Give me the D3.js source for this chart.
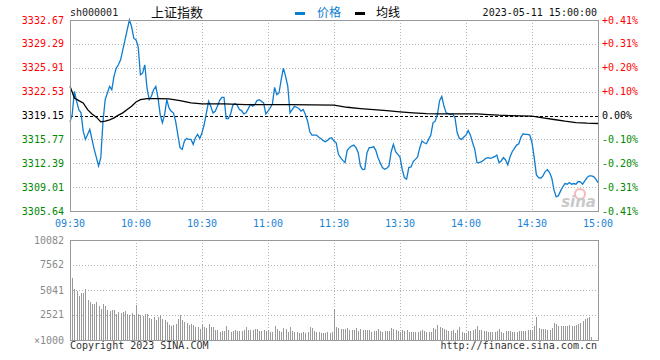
<!DOCTYPE html>
<html>
<head>
<meta charset="utf-8">
<script src="https://cdnjs.cloudflare.com/ajax/libs/d3/7.8.5/d3.min.js"></script>
<style>
  body { margin: 0; background: #fff; }
  text { font-family: "DejaVu Sans Mono", monospace; font-size: 10px; }
  .cn { font-family: "Noto Sans CJK SC", sans-serif; }
</style>
</head>
<body>
<div id="chart"></div>
<script>
// minute data, 09:30 -> 15:00 (241 points, lunch break removed)
var price = [
  3318.26, 3319.29, 3322.58, 3321.17, 3319.99, 3319.53, 3316.94, 3315.77, 3316.47, 3317.18,
  3315.77, 3314.36, 3313.19, 3312.02, 3313.19, 3318.35, 3321.40, 3322.34, 3323.28, 3322.81,
  3324.69, 3325.86, 3326.33, 3327.04, 3328.44, 3329.85, 3331.26, 3332.67, 3331.73, 3330.09,
  3329.85, 3328.91, 3324.92, 3325.16, 3326.33, 3323.05, 3321.40, 3321.87, 3322.81, 3323.28,
  3321.64, 3319.29, 3318.12, 3319.29, 3321.40, 3320.23, 3319.76, 3319.53, 3318.35, 3316.47,
  3314.60, 3314.36, 3315.54, 3315.91, 3315.77, 3315.77, 3315.07, 3316.01, 3316.47, 3315.91,
  3316.71, 3317.88, 3319.53, 3321.17, 3320.46, 3319.53, 3319.76, 3320.46, 3321.26, 3321.73,
  3321.73, 3318.73, 3318.73, 3319.38, 3320.61, 3320.84, 3320.61, 3319.99, 3319.85, 3319.38,
  3319.53, 3320.09, 3320.70, 3320.46, 3320.70, 3321.26, 3321.40, 3321.17, 3320.93, 3319.38,
  3319.76, 3320.23, 3320.79, 3323.14, 3322.11, 3322.34, 3324.22, 3325.86, 3324.69, 3323.28,
  3319.53, 3319.99, 3320.46, 3320.32, 3320.14, 3319.76, 3319.99, 3319.29, 3318.35, 3316.85,
  3316.38, 3316.38, 3316.38, 3316.10, 3315.91, 3315.63, 3315.44, 3315.63, 3315.91, 3316.01,
  3315.54, 3315.30, 3313.66, 3313.19, 3312.81, 3312.48, 3314.22, 3314.60, 3314.83, 3314.97,
  3314.60, 3313.89, 3312.02, 3311.50, 3311.55, 3313.89, 3314.60, 3314.60, 3314.74, 3314.22,
  3313.19, 3312.48, 3311.78, 3311.55, 3311.69, 3312.02, 3314.03, 3315.07, 3314.03, 3313.66,
  3313.28, 3311.55, 3310.37, 3310.14, 3311.78, 3311.87, 3312.63, 3312.95, 3313.28, 3314.60,
  3315.54, 3315.30, 3315.16, 3315.77, 3316.38, 3318.12, 3318.35, 3319.29, 3321.26, 3321.87,
  3320.46, 3319.53, 3319.43, 3319.29, 3319.38, 3318.82, 3316.71, 3315.91, 3315.77, 3316.10,
  3316.38, 3317.04, 3316.38, 3315.30, 3314.36, 3312.48, 3312.48, 3312.63, 3312.81, 3313.09,
  3313.19, 3313.09, 3313.19, 3313.33, 3313.56, 3312.48, 3312.72, 3313.19, 3312.86, 3312.16,
  3313.28, 3314.03, 3314.50, 3314.97, 3315.16, 3316.10, 3316.57, 3316.47, 3316.47, 3316.38,
  3315.30, 3313.19, 3310.75, 3310.37, 3310.28, 3310.61, 3311.22, 3311.50, 3311.08, 3310.28,
  3308.59, 3307.65, 3307.79, 3308.49, 3309.06, 3309.53, 3309.43, 3309.67, 3309.43, 3309.53,
  3309.43, 3309.81, 3309.76, 3309.43, 3309.90, 3310.37, 3310.61, 3310.61, 3310.51, 3310.14,
  3309.67
];

// average line, read at these minute indexes
var avgIdx = [0, 2, 4, 6, 8, 10, 12, 14, 16, 18, 20, 22, 24, 26, 28, 30, 32, 35, 40, 45, 50, 55, 60,
  70, 80, 90, 100, 110, 120, 126, 132, 138, 144, 150, 156, 162, 168, 174, 180, 185, 190, 195,
  200, 205, 210, 215, 220, 225, 230, 235, 240];
var avgVal = [3323.28, 3321.64, 3321.26, 3320.93, 3319.99, 3319.38, 3318.92, 3318.26, 3318.35, 3318.54,
  3318.82, 3319.20, 3319.53, 3319.99, 3320.46, 3321.07, 3321.40, 3321.54, 3321.54, 3321.50, 3321.26,
  3320.93, 3320.79, 3320.79, 3320.70, 3320.70, 3320.70, 3320.65, 3320.61, 3320.32, 3320.14, 3319.99,
  3319.85, 3319.67, 3319.53, 3319.43, 3319.38, 3319.38, 3319.38, 3319.38, 3319.29, 3319.20, 3319.15,
  3319.10, 3319.06, 3318.82, 3318.59, 3318.35, 3318.16, 3318.07, 3318.02];

// volume per minute (shares / 1000)
var volume = [
  10082, 6280, 5100, 4900, 4400, 4700, 4750, 5100, 4000, 3850,
  3600, 3600, 3800, 3400, 3100, 3650, 3400, 3050, 2950, 3050,
  3050, 2650, 2800, 2750, 2800, 2900, 2600, 2550, 2700, 2500,
  3500, 2600, 2550, 2400, 2600, 2650, 2200, 2100, 2300, 2000,
  2300, 2550, 2100, 2000, 1800, 1500, 1450, 1500, 1600, 2100,
  2550, 2000, 1850, 1700, 1550, 1650, 1550, 1350, 1300, 1100,
  1500, 1350, 1200, 1650, 1350, 1350, 1000, 1000, 850,
  900, 900, 1400, 1000, 800, 900, 1000, 950, 900, 950, 1000,
  1280, 1000, 1000, 1050, 1100, 1100, 900, 900, 1000, 950,
  1000, 780, 800, 1380, 1100, 900, 800, 1200, 1100, 800,
  1300, 900, 800, 800, 700, 700, 800, 700, 800, 1300,
  1200, 900, 800, 800, 700, 700, 700, 800, 700, 800,
  3100, 1300, 1200, 1150, 1100, 1100, 1200, 1000, 1000, 1000,
  1200, 900, 1100, 1000, 1000, 1000, 1000, 800, 900, 900,
  1100, 900, 800, 900, 900, 900, 1200, 1100, 1000, 900,
  800, 1000, 900, 1000, 800, 800, 800, 800, 800, 900,
  1000, 900, 800, 800, 800, 1200, 1100, 1500, 1300, 1180,
  1100, 1000, 950, 950, 1000, 700, 1000, 1350, 850, 750,
  750, 950, 900, 1000, 1100, 1400, 1000, 1000, 950, 900,
  800, 800, 800, 800, 900, 1150, 800, 750, 900, 900,
  900, 800, 850, 850, 900, 950, 950, 900, 1000, 1000,
  1050, 1400, 2280, 1200, 1100, 1100, 1100, 1000, 1000, 1200,
  1680, 1600, 1450, 1400, 1400, 1400, 1400, 1500, 1400, 1450,
  1500, 1600, 1750, 1950, 2080, 2200, 2350, 270, 0, 0, 0
];

// axis labels
var priceTicks = [3305.64, 3309.01, 3312.39, 3315.77, 3319.15, 3322.53, 3325.91, 3329.29, 3332.67];
var pctTicks = ["-0.41%", "-0.31%", "-0.20%", "-0.10%", "0.00%", "+0.10%", "+0.20%", "+0.31%", "+0.41%"];
var timeIdx = [0, 30, 60, 90, 120, 150, 180, 210, 240];
var timeLabels = ["09:30", "10:00", "10:30", "11:00", "11:30", "13:30", "14:00", "14:30", "15:00"];
var volTicks = [0, 2521, 5041, 7562, 10082];
var volLabels = ["\u00d71000", "2521", "5041", "7562", "10082"];
var preClose = 3319.15;

var svgWidth = 660;
var svgHeight = 360;

var left = 70, right = 598;
var pTop = 20, pBottom = 211;
var vTop = 240, vBottom = 340;

var blue = "#0f7dcf";
var grid = "#b4b4b4";
var frame = "#999";

var svg = d3.select("#chart")
    .append("svg")
    .attr("width", svgWidth)
    .attr("height", svgHeight);

// scales
var xScale = d3.scaleLinear().domain([0, 240]).range([left, right]);
var yScale = d3.scaleLinear().domain([priceTicks[0], priceTicks[8]]).range([pBottom, pTop]);
var vScale = d3.scaleLinear().domain([0, 10082]).range([vBottom, vTop]);

function colorFor(i) {
    if (i > 4) return "#f00";
    if (i < 4) return "#080";
    return "#000";
}

// ---- price panel gridlines ----
var pGrid = svg.append("g").attr("shape-rendering", "crispEdges");

pGrid.selectAll(".hg")
    .data(priceTicks.filter(function(d, i) { return i > 0 && i < 8 && i != 4; }))
    .enter().append("line")
    .attr("x1", left).attr("x2", right)
    .attr("y1", d => Math.round(yScale(d)) + 0.5)
    .attr("y2", d => Math.round(yScale(d)) + 0.5)
    .attr("stroke", grid)
    .attr("stroke-dasharray", "1,2");

pGrid.selectAll(".vg")
    .data(timeIdx.slice(1, 8))
    .enter().append("line")
    .attr("x1", d => Math.round(xScale(d)) + 0.5)
    .attr("x2", d => Math.round(xScale(d)) + 0.5)
    .attr("y1", pTop).attr("y2", pBottom)
    .attr("stroke", grid)
    .attr("stroke-dasharray", "1,2");

// pre-close dashed line
pGrid.append("line")
    .attr("x1", left).attr("x2", right)
    .attr("y1", Math.round(yScale(preClose)) + 0.5)
    .attr("y2", Math.round(yScale(preClose)) + 0.5)
    .attr("stroke", "#000")
    .attr("stroke-dasharray", "3,2");

// ---- volume panel gridlines ----
var vGrid = svg.append("g").attr("shape-rendering", "crispEdges");

vGrid.selectAll(".hg")
    .data(volTicks.slice(1, 4))
    .enter().append("line")
    .attr("x1", left).attr("x2", right)
    .attr("y1", d => Math.round(vScale(d)) + 0.5)
    .attr("y2", d => Math.round(vScale(d)) + 0.5)
    .attr("stroke", grid)
    .attr("stroke-dasharray", "1,2");

vGrid.selectAll(".vg")
    .data(timeIdx.slice(1, 8))
    .enter().append("line")
    .attr("x1", d => Math.round(xScale(d)) + 0.5)
    .attr("x2", d => Math.round(xScale(d)) + 0.5)
    .attr("y1", vTop).attr("y2", vBottom)
    .attr("stroke", grid)
    .attr("stroke-dasharray", "1,2");

// ---- sina watermark ----
var wm = svg.append("g").attr("opacity", 0.35);
wm.append("circle").attr("cx", 580).attr("cy", 194).attr("r", 5)
    .attr("fill", "none").attr("stroke", "#e33").attr("stroke-width", 2);
wm.append("text").attr("x", 596).attr("y", 207)
    .attr("text-anchor", "end")
    .style("font-family", "DejaVu Sans")
    .style("font-size", "15px")
    .style("font-style", "italic")
    .style("font-weight", "bold")
    .attr("fill", "#666")
    .text("sina");

// ---- volume bars ----
svg.append("g")
    .attr("shape-rendering", "crispEdges")
    .selectAll("rect")
    .data(volume)
    .enter().append("rect")
    .attr("x", (d, i) => Math.round(xScale(i)))
    .attr("y", d => vScale(d))
    .attr("width", 1)
    .attr("height", d => vBottom - vScale(d))
    .attr("fill", "#999");

// ---- lines ----
var priceLine = d3.line()
    .x((d, i) => xScale(i))
    .y(d => yScale(d));

svg.append("path")
    .datum(price)
    .attr("d", priceLine)
    .attr("fill", "none")
    .attr("stroke", blue)
    .attr("stroke-width", 1.3);

var avgLine = d3.line()
    .x((d, i) => xScale(avgIdx[i]))
    .y(d => yScale(d));

svg.append("path")
    .datum(avgVal)
    .attr("d", avgLine)
    .attr("fill", "none")
    .attr("stroke", "#000")
    .attr("stroke-width", 1.3);

// ---- frames ----
var frames = svg.append("g")
    .attr("shape-rendering", "crispEdges")
    .attr("fill", "none")
    .attr("stroke", frame);

frames.append("rect")
    .attr("x", left + 0.5).attr("y", pTop + 0.5)
    .attr("width", right - left).attr("height", pBottom - pTop);
frames.append("rect")
    .attr("x", left + 0.5).attr("y", vTop + 0.5)
    .attr("width", right - left).attr("height", vBottom - vTop);

// ---- price axis labels ----
svg.selectAll(".pl")
    .data(priceTicks)
    .enter().append("text")
    .attr("x", 64)
    .attr("y", d => yScale(d))
    .attr("dy", "0.35em")
    .attr("text-anchor", "end")
    .attr("fill", (d, i) => colorFor(i))
    .text(d => d.toFixed(2));

svg.selectAll(".pr")
    .data(pctTicks)
    .enter().append("text")
    .attr("x", 602)
    .attr("y", (d, i) => yScale(priceTicks[i]))
    .attr("dy", "0.35em")
    .attr("fill", (d, i) => colorFor(i))
    .text(d => d);

// time labels
svg.selectAll(".tl")
    .data(timeLabels)
    .enter().append("text")
    .attr("x", (d, i) => xScale(timeIdx[i]))
    .attr("y", 227)
    .attr("text-anchor", "middle")
    .attr("fill", "#1a82d6")
    .text(d => d);

// volume labels
svg.selectAll(".vl")
    .data(volLabels)
    .enter().append("text")
    .attr("x", 64)
    .attr("y", (d, i) => vScale(volTicks[i]))
    .attr("dy", "0.35em")
    .attr("text-anchor", "end")
    .attr("fill", "#8a8a8a")
    .text(d => d);

// ---- header ----
svg.append("text").attr("x", 70).attr("y", 16).attr("fill", "#222").text("sh000001");
svg.append("text").attr("class", "cn").attr("x", 151).attr("y", 17)
    .style("font-size", "13px").attr("fill", "#111").text("上证指数");

svg.append("rect").attr("x", 295).attr("y", 12).attr("width", 10).attr("height", 3).attr("fill", blue);
svg.append("text").attr("class", "cn").attr("x", 317).attr("y", 17)
    .style("font-size", "12px").attr("fill", blue).text("价格");
svg.append("rect").attr("x", 355).attr("y", 12).attr("width", 10).attr("height", 3).attr("fill", "#000");
svg.append("text").attr("class", "cn").attr("x", 376).attr("y", 17)
    .style("font-size", "12px").attr("fill", "#000").text("均线");

svg.append("text").attr("x", 597).attr("y", 16).attr("text-anchor", "end")
    .attr("fill", "#111").text("2023-05-11 15:00:00");

// ---- footer ----
svg.append("text").attr("x", 70).attr("y", 349).attr("fill", "#333").text("Copyright 2023 SINA.COM");
svg.append("text").attr("x", 597).attr("y", 349).attr("text-anchor", "end")
    .attr("fill", "#333").text("http://finance.sina.com.cn");
</script>
</body>
</html>
